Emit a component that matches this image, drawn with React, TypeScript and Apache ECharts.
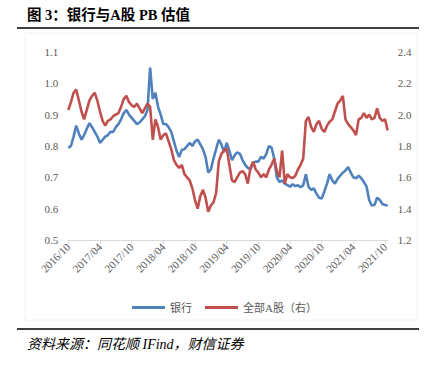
import React, { useEffect, useRef } from "react";
import * as echarts from "echarts";

// Semi-monthly observation dates (1st and 16th of each month), 2016/10 – 2021/10
const dates: string[] = [];
for (let y = 2016; y <= 2021; y++) {
  for (let m = 1; m <= 12; m++) {
    if ((y === 2016 && m < 10) || (y === 2021 && m > 10)) continue;
    const mm = String(m).padStart(2, "0");
    dates.push(`${y}/${mm}/01`, `${y}/${mm}/16`);
  }
}

const tickLabels = [
  "2016/10", "2017/04", "2017/10", "2018/04", "2018/10", "2019/04",
  "2019/10", "2020/04", "2020/10", "2021/04", "2021/10",
];

// 银行 PB (left axis)
const bankPB = [
  0.794, 0.80, 0.83, 0.865, 0.84, 0.82, 0.835, 0.855, 0.873, 0.86,
  0.845, 0.83, 0.81, 0.82, 0.83, 0.835, 0.845, 0.845, 0.86, 0.87,
  0.885, 0.905, 0.915, 0.90, 0.89, 0.88, 0.87, 0.875, 0.885, 0.895,
  0.915, 1.05, 0.95, 0.97, 0.925, 0.90, 0.87, 0.87, 0.86, 0.845,
  0.815, 0.785, 0.765, 0.787, 0.79, 0.80, 0.81, 0.80, 0.815, 0.82,
  0.805, 0.79, 0.765, 0.715, 0.725, 0.76, 0.79, 0.82, 0.805, 0.78,
  0.81, 0.785, 0.755, 0.77, 0.78, 0.775, 0.755, 0.74, 0.73, 0.725,
  0.745, 0.75, 0.75, 0.765, 0.76, 0.775, 0.80, 0.795, 0.76, 0.70,
  0.685, 0.69, 0.68, 0.675, 0.67, 0.678, 0.672, 0.675, 0.668, 0.675,
  0.71, 0.67, 0.66, 0.665, 0.648, 0.635, 0.632, 0.655, 0.68, 0.71,
  0.69, 0.68, 0.695, 0.705, 0.715, 0.722, 0.733, 0.715, 0.70, 0.697,
  0.705, 0.697, 0.685, 0.67, 0.627, 0.61, 0.612, 0.635, 0.628, 0.615,
  0.612, 0.61,
];

// 全部A股 PB (right axis)
const allAPB = [
  2.03, 2.08, 2.14, 2.16, 2.09, 2.02, 1.97, 2.03, 2.09, 2.12,
  2.14, 2.09, 2.02, 1.96, 1.93, 1.96, 1.97, 1.99, 2.0, 2.01,
  2.05, 2.10, 2.12, 2.08, 2.06, 2.05, 2.07, 2.04, 2.01, 2.04,
  2.07, 2.05, 1.84, 1.97, 1.92, 1.84, 1.87, 1.88, 1.83, 1.78,
  1.71, 1.68, 1.66, 1.68, 1.62, 1.60, 1.58, 1.53, 1.455, 1.40,
  1.48, 1.52, 1.47, 1.38, 1.42, 1.44, 1.50, 1.70, 1.75, 1.77,
  1.785, 1.68, 1.58, 1.57, 1.60, 1.63, 1.64, 1.62, 1.56, 1.66,
  1.70, 1.65, 1.63, 1.60, 1.62, 1.60, 1.65, 1.68, 1.72, 1.64,
  1.60, 1.77, 1.56, 1.62, 1.60, 1.595, 1.61, 1.65, 1.68, 1.72,
  1.96, 1.985, 1.92, 1.89, 1.94, 1.96, 1.91, 1.89, 1.93, 1.955,
  1.97, 2.02, 2.07, 2.09, 2.12, 1.97, 1.94, 1.92, 1.90, 1.87,
  1.97, 1.98, 2.01, 1.98, 2.0, 1.97, 1.98, 2.04, 1.98, 1.96,
  1.97, 1.90,
];

const titleText = "图 3：银行与A股 PB 估值";
const sourceText = "资料来源：同花顺 IFind，财信证券";
const seriesNames = ["银行", "全部A股（右）"];

const SERIF = '"Liberation Serif", "Times New Roman", "Noto Sans CJK SC", serif';
const GRAY = "#595959";

export default function App() {
  const ref = useRef<HTMLDivElement>(null);
  useEffect(() => {
    if (!ref.current) return;
    const chart = echarts.init(ref.current, null, { renderer: "svg" });
    const showTick = (_i: number, v: string) =>
      v.endsWith("/01") && tickLabels.includes(v.slice(0, 7));
    chart.setOption({
      animation: false,
      backgroundColor: "#ffffff",
      grid: { left: 68.3, right: 51.3, top: 52, bottom: 125 },
      legend: {
        left: 127,
        top: 297,
        itemWidth: 33,
        itemHeight: 3,
        itemGap: 13,
        icon: "rect",
        textStyle: { color: GRAY, fontSize: 11, fontFamily: SERIF },
        data: seriesNames,
      },
      xAxis: {
        type: "category",
        data: dates,
        boundaryGap: false,
        axisLine: { lineStyle: { color: "#d9d9d9", width: 1 } },
        axisTick: { show: true, interval: showTick, length: 4, lineStyle: { color: "#d9d9d9" } },
        axisLabel: {
          interval: showTick,
          rotate: 45,
          margin: 5,
          color: GRAY,
          fontSize: 11,
          fontFamily: SERIF,
          formatter: (v: string) => v.slice(0, 7),
        },
        splitLine: { show: false },
      },
      yAxis: [
        {
          type: "value",
          min: 0.5,
          max: 1.1,
          interval: 0.1,
          axisLine: { show: false },
          axisTick: { show: false },
          splitLine: { show: false },
          axisLabel: {
            margin: 10,
            color: GRAY,
            fontSize: 11,
            fontFamily: SERIF,
            formatter: (v: number) => v.toFixed(1),
          },
        },
        {
          type: "value",
          min: 1.2,
          max: 2.4,
          interval: 0.2,
          axisLine: { show: false },
          axisTick: { show: false },
          splitLine: { show: false },
          axisLabel: {
            margin: 10,
            color: GRAY,
            fontSize: 11,
            fontFamily: SERIF,
            formatter: (v: number) => v.toFixed(1),
          },
        },
      ],
      series: [
        {
          name: seriesNames[0],
          type: "line",
          yAxisIndex: 0,
          data: bankPB,
          showSymbol: false,
          symbol: "none",
          color: "#4F81BD",
          lineStyle: { width: 2.6, color: "#4F81BD" },
        },
        {
          name: seriesNames[1],
          type: "line",
          yAxisIndex: 1,
          data: allAPB,
          showSymbol: false,
          symbol: "none",
          color: "#C0504D",
          lineStyle: { width: 2.6, color: "#C0504D" },
        },
      ],
      graphic: [
        {
          type: "rect",
          silent: true,
          shape: { x: 25, y: 33, width: 392, height: 287 },
          style: { fill: "none", stroke: "#f2f2f2", lineWidth: 1 },
        },
        {
          type: "text",
          left: 27,
          top: 8,
          style: {
            text: titleText,
            fontSize: 14.5,
            fontWeight: "bold",
            fontFamily: SERIF,
            fill: "#000000",
          },
        },
        {
          type: "line",
          shape: { x1: 17, y1: 28, x2: 419, y2: 28 },
          style: { stroke: "#000000", lineWidth: 1.5 },
        },
        {
          type: "line",
          shape: { x1: 17, y1: 329, x2: 419, y2: 329 },
          style: { stroke: "#000000", lineWidth: 1.5 },
        },
        {
          type: "text",
          left: 27,
          top: 337,
          style: {
            text: sourceText,
            fontSize: 14,
            fontStyle: "italic",
            fontFamily: SERIF,
            fill: "#000000",
          },
        },
      ],
    });
    return () => chart.dispose();
  }, []);
  return (
    <div
      ref={ref}
      style={{ position: "fixed", left: 0, top: 0, width: 439, height: 365 }}
    />
  );
}
